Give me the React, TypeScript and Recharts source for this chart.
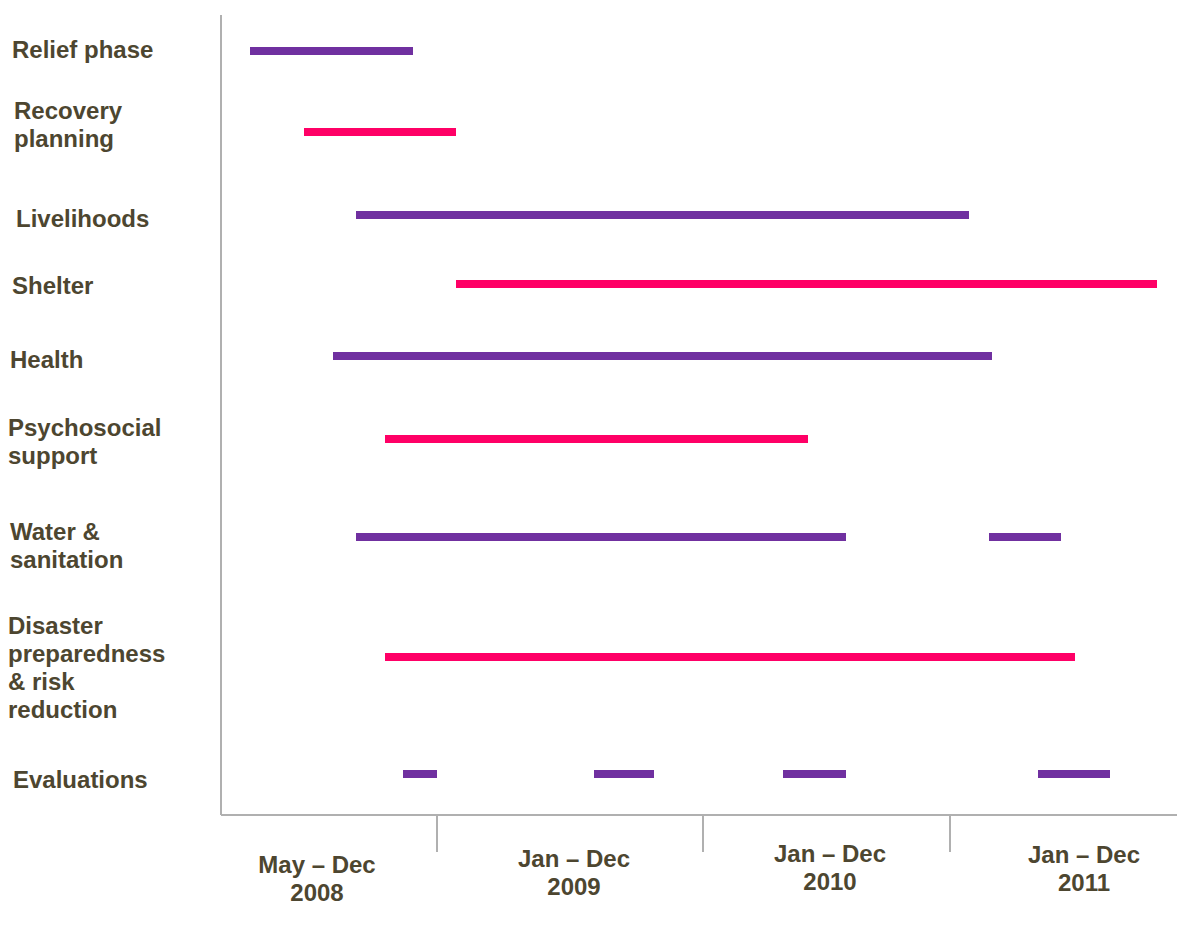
import React from 'react';
import { ScatterChart, Scatter, XAxis, YAxis } from 'recharts';

// timeline units: 0 = left edge of the plot, separators mark year ends
const categories = [
  'Relief phase',
  'Recovery\nplanning',
  'Livelihoods',
  'Shelter',
  'Health',
  'Psychosocial\nsupport',
  'Water &\nsanitation',
  'Disaster\npreparedness\n& risk\nreduction',
  'Evaluations',
];
const rowPositions = [36, 117, 200, 269, 341, 424, 522, 642, 759];

const segmentRows = [0, 1, 2, 3, 4, 5, 6, 6, 7, 8, 8, 8, 8];
const segmentStarts = [29, 83, 135, 235, 112, 164, 135, 768, 164, 182, 373, 562, 817];
const segmentEnds = [192, 235, 748, 936, 771, 587, 625, 840, 854, 216, 433, 625, 889];

const yearSeparators = [216, 482, 729];
const periodCenters = [96, 353, 609, 863];
const periodLabels = ['May – Dec\n2008', 'Jan – Dec\n2009', 'Jan – Dec\n2010', 'Jan – Dec\n2011'];

const TEXT = '#4d4630';
const PURPLE = '#7030a0';
const PINK = '#ff0066';
const AXIS = '#b0b0b0';
const FONT = '"Liberation Sans", Arial, sans-serif';

// hand nudges so the text boxes sit like the original slide's
const labelNudgeX = [12, 14, 16, 12, 10, 8, 10, 8, 13];
const labelNudgeY = [-2, -8, 3, 1, 3, 2, 8, 10, 5];
const periodNudgeY = [6, 0, -5, -4];

const segments = segmentRows.map((row, i) => ({
  row,
  data: [
    { x: segmentStarts[i], y: rowPositions[row] },
    { x: segmentEnds[i], y: rowPositions[row] },
  ],
}));

const CategoryTick = (props: any) => {
  const { y, payload } = props;
  const idx = rowPositions.indexOf(payload.value);
  if (idx < 0) return null;
  const lines = categories[idx].split('\n');
  const lx = labelNudgeX[idx];
  const first = y + labelNudgeY[idx] - ((lines.length - 1) * 28) / 2 + 8.5;
  return (
    <text x={lx} y={first} fill={TEXT} fontFamily={FONT} fontWeight="bold" fontSize={24} textAnchor="start">
      {lines.map((l, i) => (
        <tspan key={i} x={lx} y={first + i * 28}>
          {l}
        </tspan>
      ))}
    </text>
  );
};

const TimeTick = (props: any) => {
  const { x, y, payload } = props;
  if (yearSeparators.includes(payload.value)) {
    return <line x1={x} x2={x} y1={y} y2={y + 37} stroke={AXIS} strokeWidth={2} />;
  }
  const idx = periodCenters.indexOf(payload.value);
  if (idx < 0) return null;
  const lines = periodLabels[idx].split('\n');
  const base = y + 52 + periodNudgeY[idx];
  return (
    <text x={x} y={base} fill={TEXT} fontFamily={FONT} fontWeight="bold" fontSize={24} textAnchor="middle">
      {lines.map((l, i) => (
        <tspan key={i} x={x} y={base + i * 28}>
          {l}
        </tspan>
      ))}
    </text>
  );
};

export default function App() {
  return (
    <div style={{ position: 'absolute', left: 0, top: 0, background: '#fff' }}>
      <ScatterChart width={1177} height={932} margin={{ top: 15, right: 0, bottom: 0, left: 0 }}>
        <XAxis
          type="number"
          dataKey="x"
          domain={[0, 956]}
          ticks={[...yearSeparators, ...periodCenters].sort((a, b) => a - b)}
          interval={0}
          height={117}
          tickSize={0}
          tickMargin={0}
          tickLine={false}
          axisLine={{ stroke: AXIS, strokeWidth: 2 }}
          tick={<TimeTick />}
          allowDataOverflow
        />
        <YAxis
          type="number"
          dataKey="y"
          domain={[0, 800]}
          reversed
          width={221}
          ticks={rowPositions}
          interval={0}
          tickSize={0}
          tickLine={false}
          axisLine={{ stroke: AXIS, strokeWidth: 2 }}
          tick={<CategoryTick />}
          allowDataOverflow
        />
        {segments.map((s, i) => {
          const color = s.row % 2 === 0 ? PURPLE : PINK;
          return (
            <Scatter
              key={i}
              data={s.data}
              fill={color}
              line={{ stroke: color, strokeWidth: 8 }}
              shape={() => <g />}
              isAnimationActive={false}
            />
          );
        })}
      </ScatterChart>
    </div>
  );
}
